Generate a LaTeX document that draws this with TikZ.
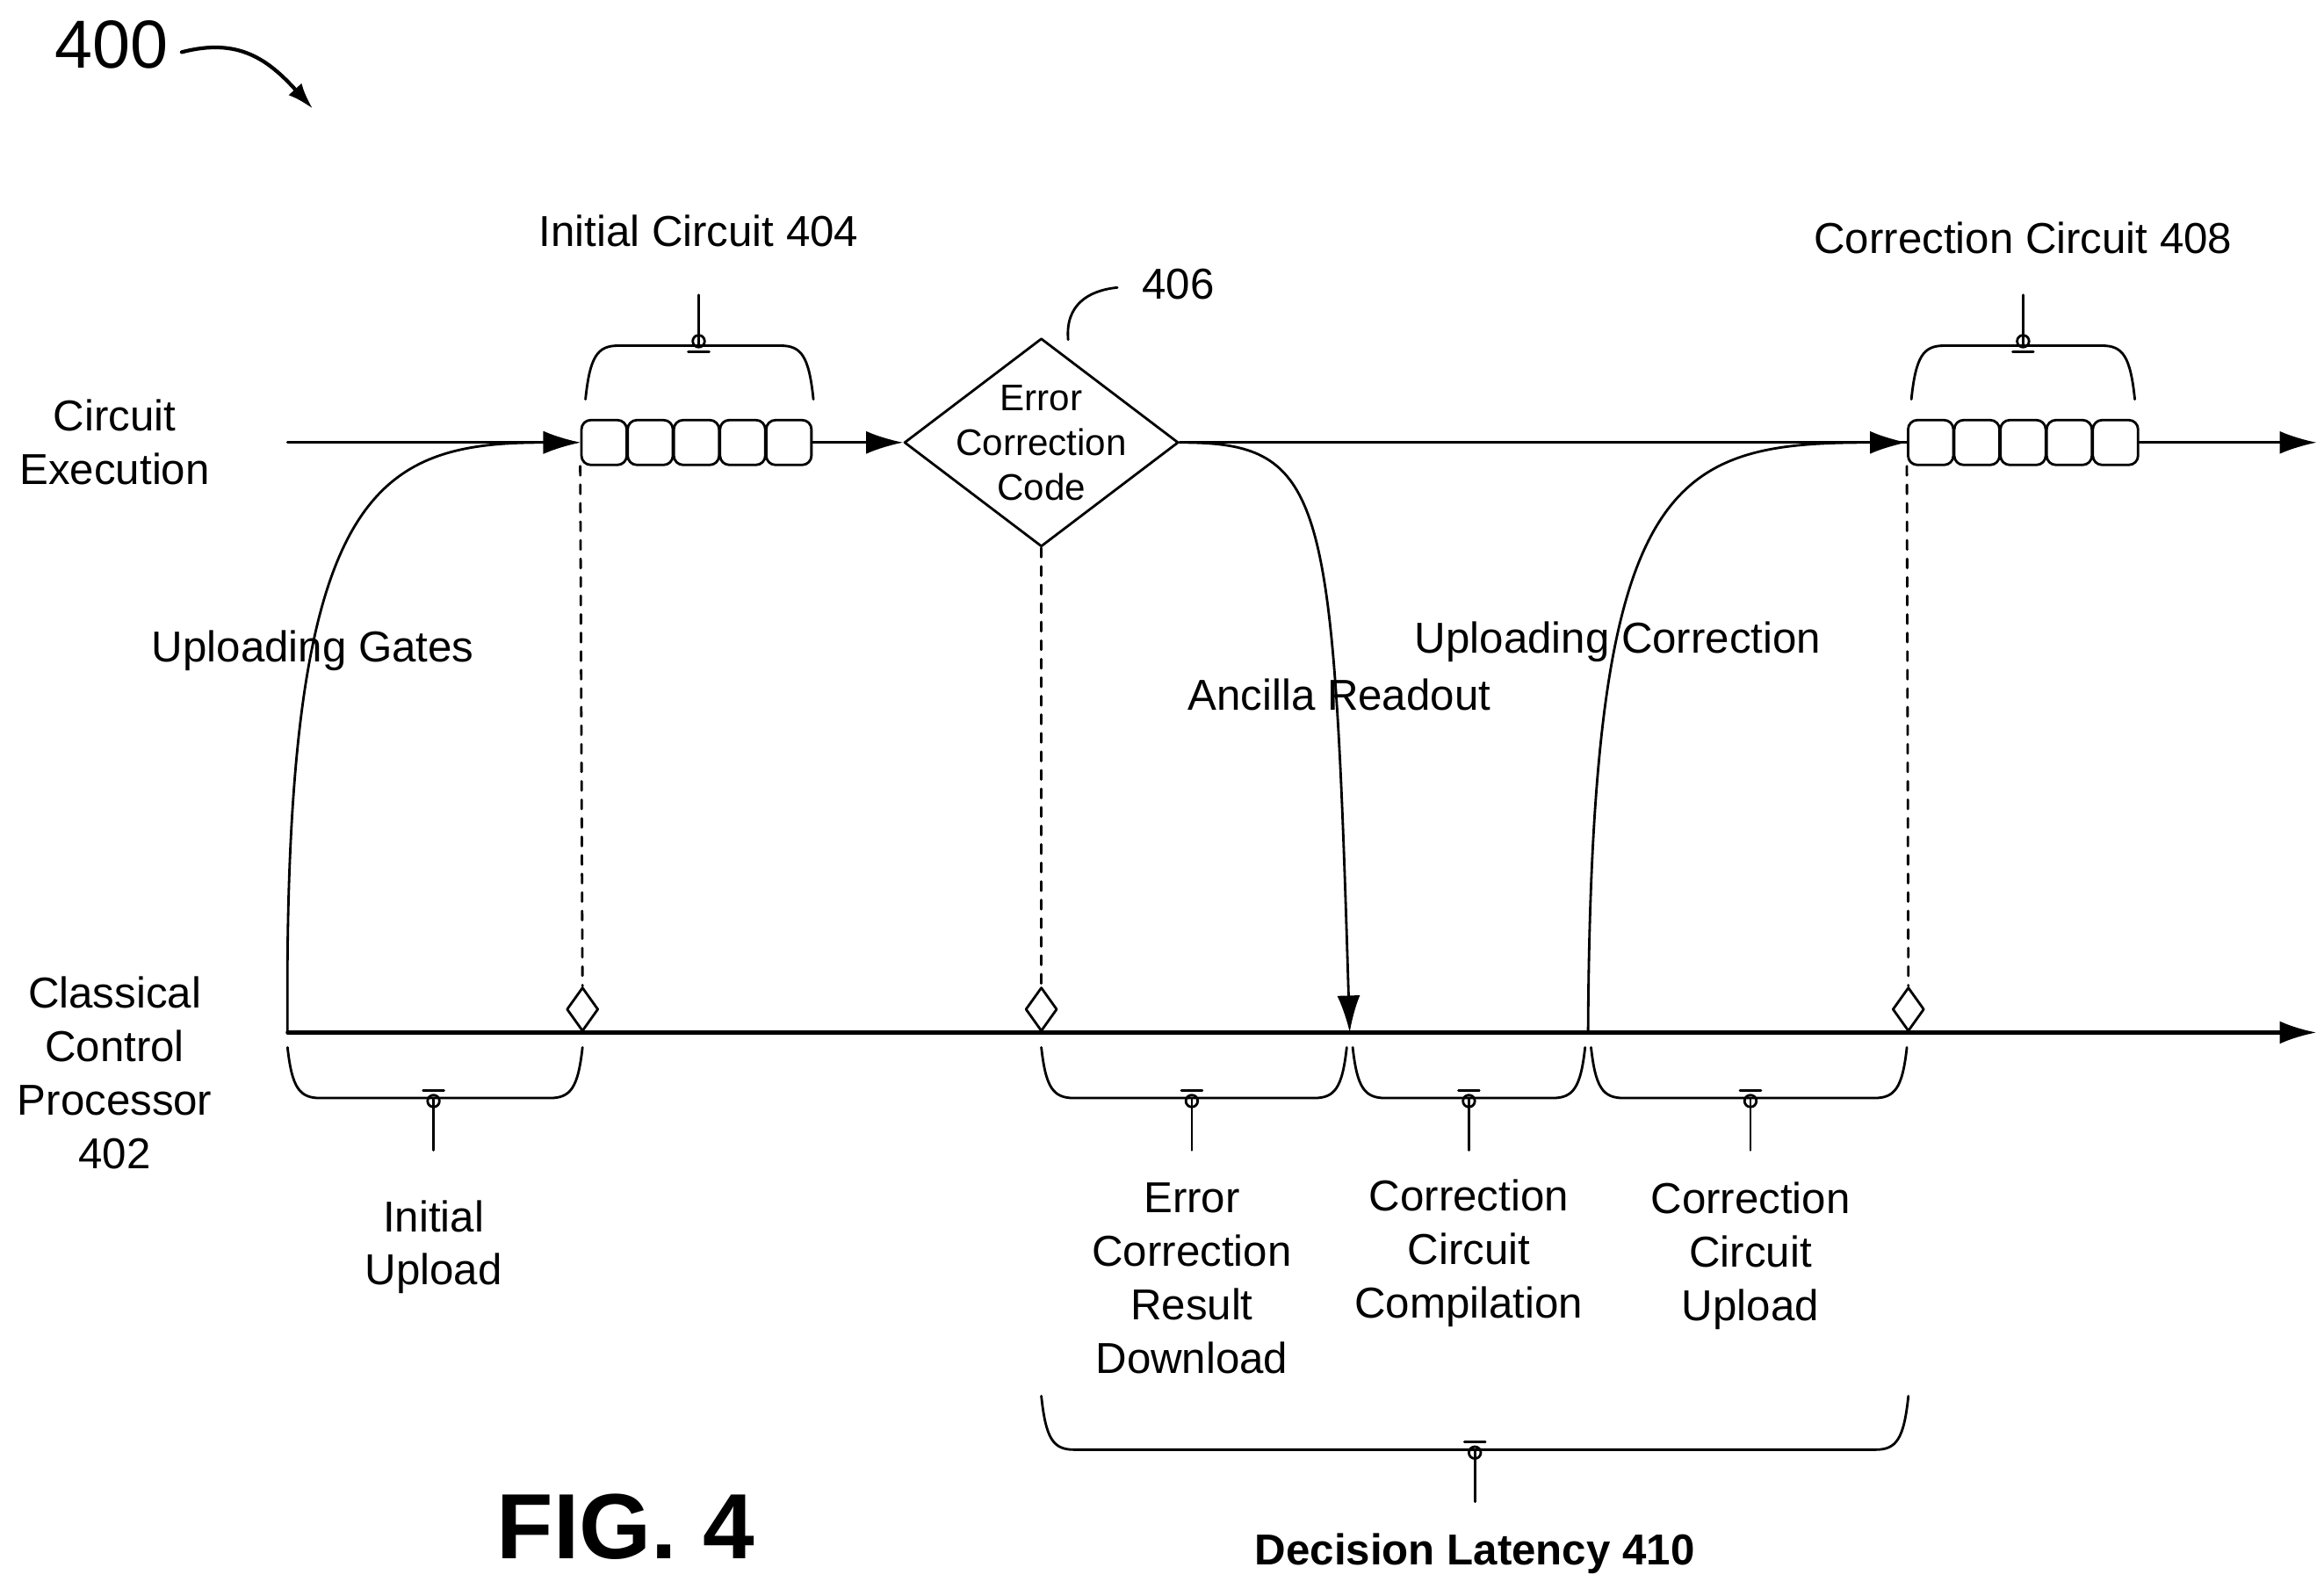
\documentclass[tikz,border=0pt]{standalone}
\usepackage{fontspec}
\setmainfont{Liberation Sans}
\usetikzlibrary{shapes.geometric,positioning,arrows.meta}
\tikzset{
  lbl/.style={align=center,font=\fontsize{14}{17.3}\selectfont},
  gate/.style={draw,thick,rounded corners=3pt,minimum width=0.515cm,minimum height=0.51cm,inner sep=0pt},
  sync/.style={draw,thick,diamond,minimum width=0.36cm,minimum height=0.5cm,inner sep=0pt,fill=white,shape aspect=0.6},
  tick/.style={thick},
  arr/.style={thick,-{Latex[length=4.2mm,width=2.6mm]}},
}
% brace between x=#1 and x=#2, base y=#3, depth #4 (sign gives direction)
\newcommand\brc[4]{%
  \draw[thick] (#1,#3) .. controls (#1+3,#3+#4*0.8) and (#1+8,#3+#4) .. (#1+22,#3+#4)
    -- (#2-22,#3+#4) .. controls (#2-8,#3+#4) and (#2-3,#3+#4*0.8) .. (#2,#3);}
\begin{document}
\begin{tikzpicture}[x=0.01696cm,y=-0.01696cm,line cap=round,line join=round]
\useasboundingbox (0,0) rectangle (1560,1066);
% figure number
\node[font=\fontsize{22}{26}\selectfont] (n400) at (75,30) {400};
\draw[very thick,-{Latex[length=3mm,width=2mm]}] (122,35) .. controls (160,25) and (180,40) .. (210,73);

% side labels
\node[lbl] (exec) at (77,297) {Circuit\\Execution};
\node[lbl] (ccp) at (77,720) {Classical\\Control\\Processor\\402};

% circuit execution line
\coordinate (t0) at (193,297);
\coordinate (tend) at (1555,297);
\foreach \i in {0,...,4}{
  \node[gate] (g\i) at (405.5+\i*31,297) {};
  \node[gate] (h\i) at (1296+\i*31,297) {};
}
\node[diamond,draw,thick,minimum width=3.12cm,minimum height=2.37cm,inner sep=0pt] (ecc) at (699,297) {};
\node[align=center,font=\fontsize{12}{14.5}\selectfont] (ecct) at (ecc.center) {Error\\Correction\\Code};
\draw[arr] (t0) -- (g0.west);
\draw[arr] (g4.east) -- (ecc.west);
\draw[thick] (ecc.east) -- (h0.west);
\draw[arr] (h4.east) -- (tend);

% classical control line
\coordinate (b0) at (193,693);
\coordinate (bend) at (1555,693);
\coordinate (rd) at (906,693);
\coordinate (up) at (1066,693);
\draw[arr,very thick] (b0) -- (bend);

% markers
\node[sync,anchor=south] (m1) at (391,693) {};
\node[sync,anchor=south] (m2) at (699,693) {};
\node[sync,anchor=south] (m3) at (1281,693) {};
\draw[thick,dashed] (g0.south west) -- (m1.north);
\draw[thick,dashed] (ecc.south) -- (m2.north);
\draw[thick,dashed] (h0.south west) -- (m3.north);

% transfers
\draw[arr] (b0) .. controls (190,330) and (250,297) .. (g0.west);
\draw[arr] (ecc.east) .. controls (890,297) and (895,330) .. (rd);
\draw[arr] (up) .. controls (1068,320) and (1120,297) .. (h0.west);
\node[lbl] (ug) at (210,437) {Uploading Gates};
\node[lbl] (ar) at (899,466) {Ancilla Readout};
\node[lbl] (uc) at (1086,431) {Uploading Correction};

% top braces
\brc{393}{546}{268}{-36}
\draw[tick] (469,232) -- (469,198);
\draw[tick] (469,229) circle (4);
\draw[tick] (462,236) -- (476,236);
\node[lbl] (ic) at (469,155) {Initial Circuit 404};
\brc{1283}{1433}{268}{-36}
\draw[tick] (1358,232) -- (1358,198);
\draw[tick] (1358,229) circle (4);
\draw[tick] (1351,236) -- (1365,236);
\node[lbl] (cc) at (1358,160) {Correction Circuit 408};
\node[lbl] (n406) at (791,191) {406};
\draw[thick] (717,228) .. controls (715,205) and (730,195) .. (750,193);

% bottom braces
\foreach \a/\b/\m in {193/391/291,699/904/800,908/1064/986,1068/1280/1175}{
  \brc{\a}{\b}{703}{34}
  \draw[tick] (\m,737) -- (\m,772);
  \draw[tick] (\m,739) circle (4);
  \draw[tick] (\m-7,732) -- (\m+7,732);
}
\node[lbl] (iu) at (291,837) {Initial\\Upload};
\node[lbl] (ecr) at (800,858) {Error\\Correction\\Result\\Download};
\node[lbl] (ccc) at (986,841) {Correction\\Circuit\\Compilation};
\node[lbl] (ccu) at (1175,843) {Correction\\Circuit\\Upload};

% decision latency
\brc{699}{1281}{937}{36}
\draw[tick] (990,973) -- (990,1008);
\draw[tick] (990,975) circle (4);
\draw[tick] (983,968) -- (997,968);
\node[lbl,font=\bfseries\fontsize{14}{17.3}\selectfont] (dl) at (990,1043) {Decision Latency 410};
\node[font=\bfseries\fontsize{30}{36}\selectfont] (fig) at (420,1025) {FIG. 4};
\end{tikzpicture}
\end{document}
